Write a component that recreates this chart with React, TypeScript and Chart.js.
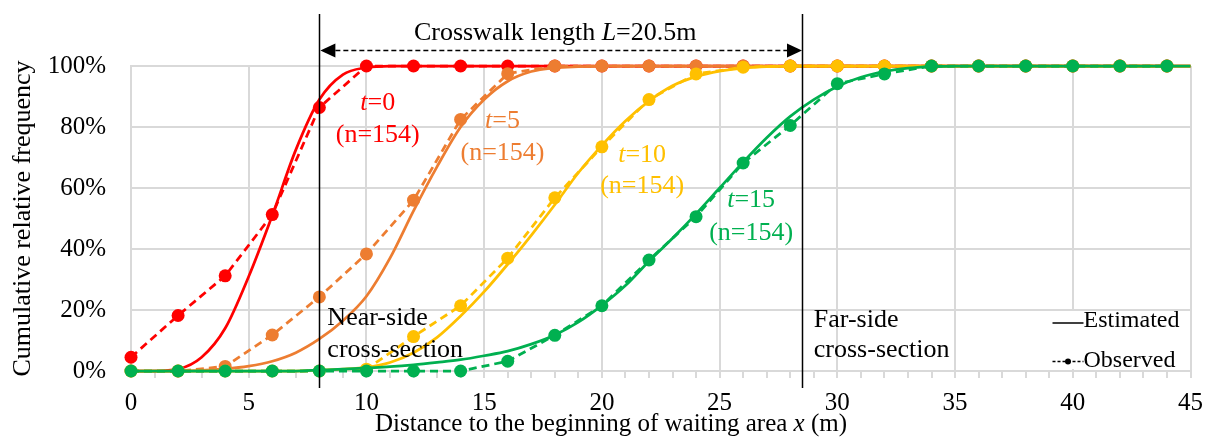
import React, { useEffect, useRef } from "react";
import { Chart, registerables } from "chart.js";

Chart.register(...registerables);

// ---------- data ----------
const obsX = [0, 2, 4, 6, 8, 10, 12, 14, 16, 18, 20, 22, 24, 26, 28, 30, 32, 34, 36, 38, 40, 42, 44];
const estX = [0, 1, 2, 3, 4, 5, 6, 7, 8, 9, 10, 11, 12, 13, 14, 15, 16, 17, 18, 19, 20, 21, 22, 23, 24, 25, 26, 27, 28, 29, 30, 31, 32, 33, 34, 35, 36, 37, 38, 39, 40, 41, 42, 43, 44, 45];

// observed cumulative relative frequency (%)
const obsT0 = [4.5, 18.2, 31.2, 51.3, 86.4, 100, 100, 100, 100, 100, 100, 100, 100, 100, 100, 100, 100, 100, 100, 100, 100, 100, 100];
const obsT5 = [0, 0, 1.5, 11.8, 24.3, 38.4, 56, 82.5, 97.5, 100, 100, 100, 100, 100, 100, 100, 100, 100, 100, 100, 100, 100, 100];
const obsT10 = [0, 0, 0, 0, 0, 0.6, 11.3, 21.4, 37, 56.8, 73.5, 89, 97.4, 99.6, 100, 100, 100, 100, 100, 100, 100, 100, 100];
const obsT15 = [0, 0, 0, 0, 0, 0, 0, 0, 3.2, 11.7, 21.4, 36.4, 50.6, 68.2, 80.5, 94.2, 97.4, 100, 100, 100, 100, 100, 100];

// estimated cumulative distribution (%)
const estT0 = [0, 0, 0.6, 4.5, 14, 31, 51, 72.5, 89, 97.2, 99.5, 100, 100, 100, 100, 100, 100, 100, 100, 100, 100, 100, 100, 100, 100, 100, 100, 100, 100, 100, 100, 100, 100, 100, 100, 100, 100, 100, 100, 100, 100, 100, 100, 100, 100, 100];
const estT5 = [0, 0, 0, 0.2, 0.7, 1.6, 3.2, 6, 10.5, 16.5, 24.5, 37, 52.5, 67, 80, 89, 95, 98.2, 99.4, 99.8, 100, 100, 100, 100, 100, 100, 100, 100, 100, 100, 100, 100, 100, 100, 100, 100, 100, 100, 100, 100, 100, 100, 100, 100, 100, 100];
const estT10 = [0, 0, 0, 0, 0, 0, 0, 0, 0.3, 0.6, 1.2, 2.8, 6, 11, 18, 26, 35, 44.5, 54.5, 65, 74, 82, 88.5, 93.5, 96.5, 98.3, 99.3, 99.8, 100, 100, 100, 100, 100, 100, 100, 100, 100, 100, 100, 100, 100, 100, 100, 100, 100, 100];
const estT15 = [0, 0, 0, 0, 0, 0, 0, 0, 0.3, 0.6, 1, 1.4, 2, 2.8, 3.7, 5, 6.5, 8.8, 11.8, 16, 21.5, 28, 36, 43.5, 51.5, 60, 68.5, 76.5, 83.5, 89, 93.3, 96.3, 98.2, 99.3, 99.8, 100, 100, 100, 100, 100, 100, 100, 100, 100, 100, 100];

const majorXTicks = [0, 5, 10, 15, 20, 25, 30, 35, 40, 45];
const yTicks = [0, 20, 40, 60, 80, 100];

const nearSideX = 8;
const farSideX = 28.5;

// ---------- style ----------
const RED = "#FF0000";
const ORANGE = "#ED7D31";
const YELLOW = "#FFC000";
const GREEN = "#00B050";
const GRID = "#d9d9d9";
const FONT = "'Liberation Serif', 'Times New Roman', serif";

type Part = { t: string; i?: boolean };
type Ann = { parts: Part[]; x: number; y: number; color: string; align: "left" | "center"; size: number };

const annotations: Ann[] = [
  { parts: [{ t: "t", i: true }, { t: "=0" }], x: 10.48, y: 85.6, color: RED, align: "center", size: 26 },
  { parts: [{ t: "(n=154)" }], x: 10.48, y: 75.2, color: RED, align: "center", size: 26 },
  { parts: [{ t: "t", i: true }, { t: "=5" }], x: 15.78, y: 79.7, color: ORANGE, align: "center", size: 26 },
  { parts: [{ t: "(n=154)" }], x: 15.78, y: 69.2, color: ORANGE, align: "center", size: 26 },
  { parts: [{ t: "t", i: true }, { t: "=10" }], x: 21.71, y: 68.6, color: YELLOW, align: "center", size: 26 },
  { parts: [{ t: "(n=154)" }], x: 21.71, y: 58.4, color: YELLOW, align: "center", size: 26 },
  { parts: [{ t: "t", i: true }, { t: "=15" }], x: 26.34, y: 53.8, color: GREEN, align: "center", size: 26 },
  { parts: [{ t: "(n=154)" }], x: 26.34, y: 42.95, color: GREEN, align: "center", size: 26 },
  { parts: [{ t: "Near-side" }], x: 8.34, y: 15.1, color: "#000", align: "left", size: 26 },
  { parts: [{ t: "cross-section" }], x: 8.34, y: 4.7, color: "#000", align: "left", size: 26 },
  { parts: [{ t: "Far-side" }], x: 29.0, y: 14.5, color: "#000", align: "left", size: 26 },
  { parts: [{ t: "cross-section" }], x: 29.0, y: 4.7, color: "#000", align: "left", size: 26 },
];

function drawRich(ctx: CanvasRenderingContext2D, parts: Part[], x: number, y: number, size: number, align: "left" | "center", color: string) {
  const widths = parts.map((p) => {
    ctx.font = `${p.i ? "italic " : ""}${size}px ${FONT}`;
    return ctx.measureText(p.t).width;
  });
  const total = widths.reduce((a, b) => a + b, 0);
  let cx = align === "center" ? x - total / 2 : x;
  ctx.fillStyle = color;
  ctx.textAlign = "left";
  ctx.textBaseline = "alphabetic";
  parts.forEach((p, k) => {
    ctx.font = `${p.i ? "italic " : ""}${size}px ${FONT}`;
    ctx.fillText(p.t, cx, y);
    cx += widths[k];
  });
}

const overlayPlugin = {
  id: "overlay",
  afterDatasetsDraw(chart: any) {
    const ctx: CanvasRenderingContext2D = chart.ctx;
    const xs = chart.scales.x;
    const ys = chart.scales.y;
    const area = chart.chartArea;
    ctx.save();

    // cross-section vertical lines
    ctx.strokeStyle = "#000";
    ctx.lineWidth = 1.5;
    [nearSideX, farSideX].forEach((v) => {
      const px = Math.round(xs.getPixelForValue(v)) + 0.5;
      ctx.beginPath();
      ctx.moveTo(px, area.top - 52);
      ctx.lineTo(px, area.bottom + 17);
      ctx.stroke();
    });

    // crosswalk arrow
    const x1 = xs.getPixelForValue(nearSideX) + 1;
    const x2 = xs.getPixelForValue(farSideX);
    const ay = area.top - 15.5;
    const head = 15;
    const hh = 7;
    ctx.setLineDash([5, 3]);
    ctx.lineWidth = 1.5;
    ctx.beginPath();
    ctx.moveTo(x1 + head, ay);
    ctx.lineTo(x2 - head, ay);
    ctx.stroke();
    ctx.setLineDash([]);
    ctx.fillStyle = "#000";
    ctx.beginPath();
    ctx.moveTo(x1, ay);
    ctx.lineTo(x1 + head, ay - hh);
    ctx.lineTo(x1 + head, ay + hh);
    ctx.closePath();
    ctx.fill();
    ctx.beginPath();
    ctx.moveTo(x2, ay);
    ctx.lineTo(x2 - head, ay - hh);
    ctx.lineTo(x2 - head, ay + hh);
    ctx.closePath();
    ctx.fill();
    drawRich(ctx, [{ t: "Crosswalk length " }, { t: "L", i: true }, { t: "=20.5m" }], (x1 + x2) / 2 - 6, area.top - 26, 26, "center", "#000");

    // text annotations
    annotations.forEach((a) => {
      drawRich(ctx, a.parts, xs.getPixelForValue(a.x), ys.getPixelForValue(a.y), a.size, a.align, a.color);
    });

    // legend
    const lx0 = area.right - 138;
    const lx1 = area.right - 107;
    ctx.fillStyle = "#fff";
    ctx.fillRect(area.right - 142, area.bottom - 60, 138, 58);
    ctx.strokeStyle = "#000";
    ctx.lineWidth = 1.5;
    ctx.beginPath();
    ctx.moveTo(lx0, area.bottom - 48);
    ctx.lineTo(lx1, area.bottom - 48);
    ctx.stroke();
    ctx.setLineDash([3, 2]);
    ctx.beginPath();
    ctx.moveTo(lx0, area.bottom - 9.5);
    ctx.lineTo(lx1, area.bottom - 9.5);
    ctx.stroke();
    ctx.setLineDash([]);
    ctx.fillStyle = "#000";
    ctx.beginPath();
    ctx.arc((lx0 + lx1) / 2, area.bottom - 9.5, 3, 0, Math.PI * 2);
    ctx.fill();
    drawRich(ctx, [{ t: "Estimated" }], lx1, area.bottom - 44, 24, "left", "#000");
    drawRich(ctx, [{ t: "Observed" }], lx1, area.bottom - 4, 24, "left", "#000");

    // axis titles
    drawRich(ctx, [{ t: "Distance to the beginning of waiting area " }, { t: "x", i: true }, { t: " (m)" }], 611, area.bottom + 60, 25, "center", "#000");
    ctx.translate(23, (area.top + area.bottom) / 2);
    ctx.rotate(-Math.PI / 2);
    ctx.font = `26px ${FONT}`;
    ctx.fillStyle = "#000";
    ctx.textAlign = "center";
    ctx.textBaseline = "middle";
    ctx.fillText("Cumulative relative frequency", 0, 0);

    ctx.restore();
  },
};

function pts(xs: number[], ys: number[]) {
  return xs.map((x, i) => ({ x, y: ys[i] }));
}

function obsDs(label: string, ys: number[], color: string) {
  return {
    label,
    data: pts(obsX, ys),
    borderColor: color,
    backgroundColor: color,
    borderWidth: 2.75,
    borderDash: [8, 5],
    pointRadius: 6.5,
    pointBorderWidth: 0,
    pointBackgroundColor: color,
    tension: 0,
    clip: false as const,
  };
}

function estDs(label: string, ys: number[], color: string) {
  return {
    label,
    data: pts(estX, ys),
    borderColor: color,
    backgroundColor: color,
    borderWidth: 2.75,
    pointRadius: 0,
    cubicInterpolationMode: "monotone" as const,
    clip: false as const,
  };
}

export default function App() {
  const ref = useRef<HTMLCanvasElement | null>(null);

  useEffect(() => {
    if (!ref.current) return;
    const chart = new Chart(ref.current, {
      type: "line",
      data: {
        datasets: [
          obsDs("Observed t=15", obsT15, GREEN),
          estDs("Estimated t=15", estT15, GREEN),
          obsDs("Observed t=10", obsT10, YELLOW),
          estDs("Estimated t=10", estT10, YELLOW),
          obsDs("Observed t=5", obsT5, ORANGE),
          estDs("Estimated t=5", estT5, ORANGE),
          obsDs("Observed t=0", obsT0, RED),
          estDs("Estimated t=0", estT0, RED),
        ] as any,
      },
      options: {
        animation: false,
        responsive: false,
        devicePixelRatio: 1,
        layout: { autoPadding: false, padding: { top: 66, right: 21, left: 0, bottom: 0 } },
        plugins: { legend: { display: false }, tooltip: { enabled: false } },
        scales: {
          x: {
            type: "linear",
            min: 0,
            max: 45,
            afterFit: (s: any) => {
              s.height = 75;
            },
            ticks: {
              stepSize: 1,
              maxTicksLimit: 100,
              autoSkip: false,
              maxRotation: 0,
              color: "#000",
              padding: 10,
              font: { family: FONT, size: 25 },
              callback: (v: any) => (majorXTicks.includes(Number(v)) ? String(v) : ""),
            },
            grid: {
              color: (c: any) => (c.tick && majorXTicks.includes(c.tick.value) ? GRID : "rgba(0,0,0,0)"),
              tickColor: GRID,
              tickLength: 7,
              lineWidth: 2,
            },
            border: { color: GRID, width: 2 },
          },
          y: {
            type: "linear",
            min: 0,
            max: 100,
            afterFit: (s: any) => {
              s.width = 131;
            },
            afterBuildTicks: (s: any) => {
              s.ticks = yTicks.map((v) => ({ value: v }));
            },
            ticks: {
              color: "#000",
              padding: 25,
              font: { family: FONT, size: 25 },
              callback: (v: any) => `${v}%`,
            },
            grid: { color: GRID, lineWidth: 2, drawTicks: false },
            border: { color: GRID, width: 2 },
          },
        },
      },
      plugins: [overlayPlugin],
    });
    return () => chart.destroy();
  }, []);

  return (
    <div style={{ position: "absolute", left: 0, top: 0, width: 1213, height: 446, background: "#fff" }}>
      <canvas ref={ref} width={1213} height={446} style={{ display: "block" }} />
    </div>
  );
}
